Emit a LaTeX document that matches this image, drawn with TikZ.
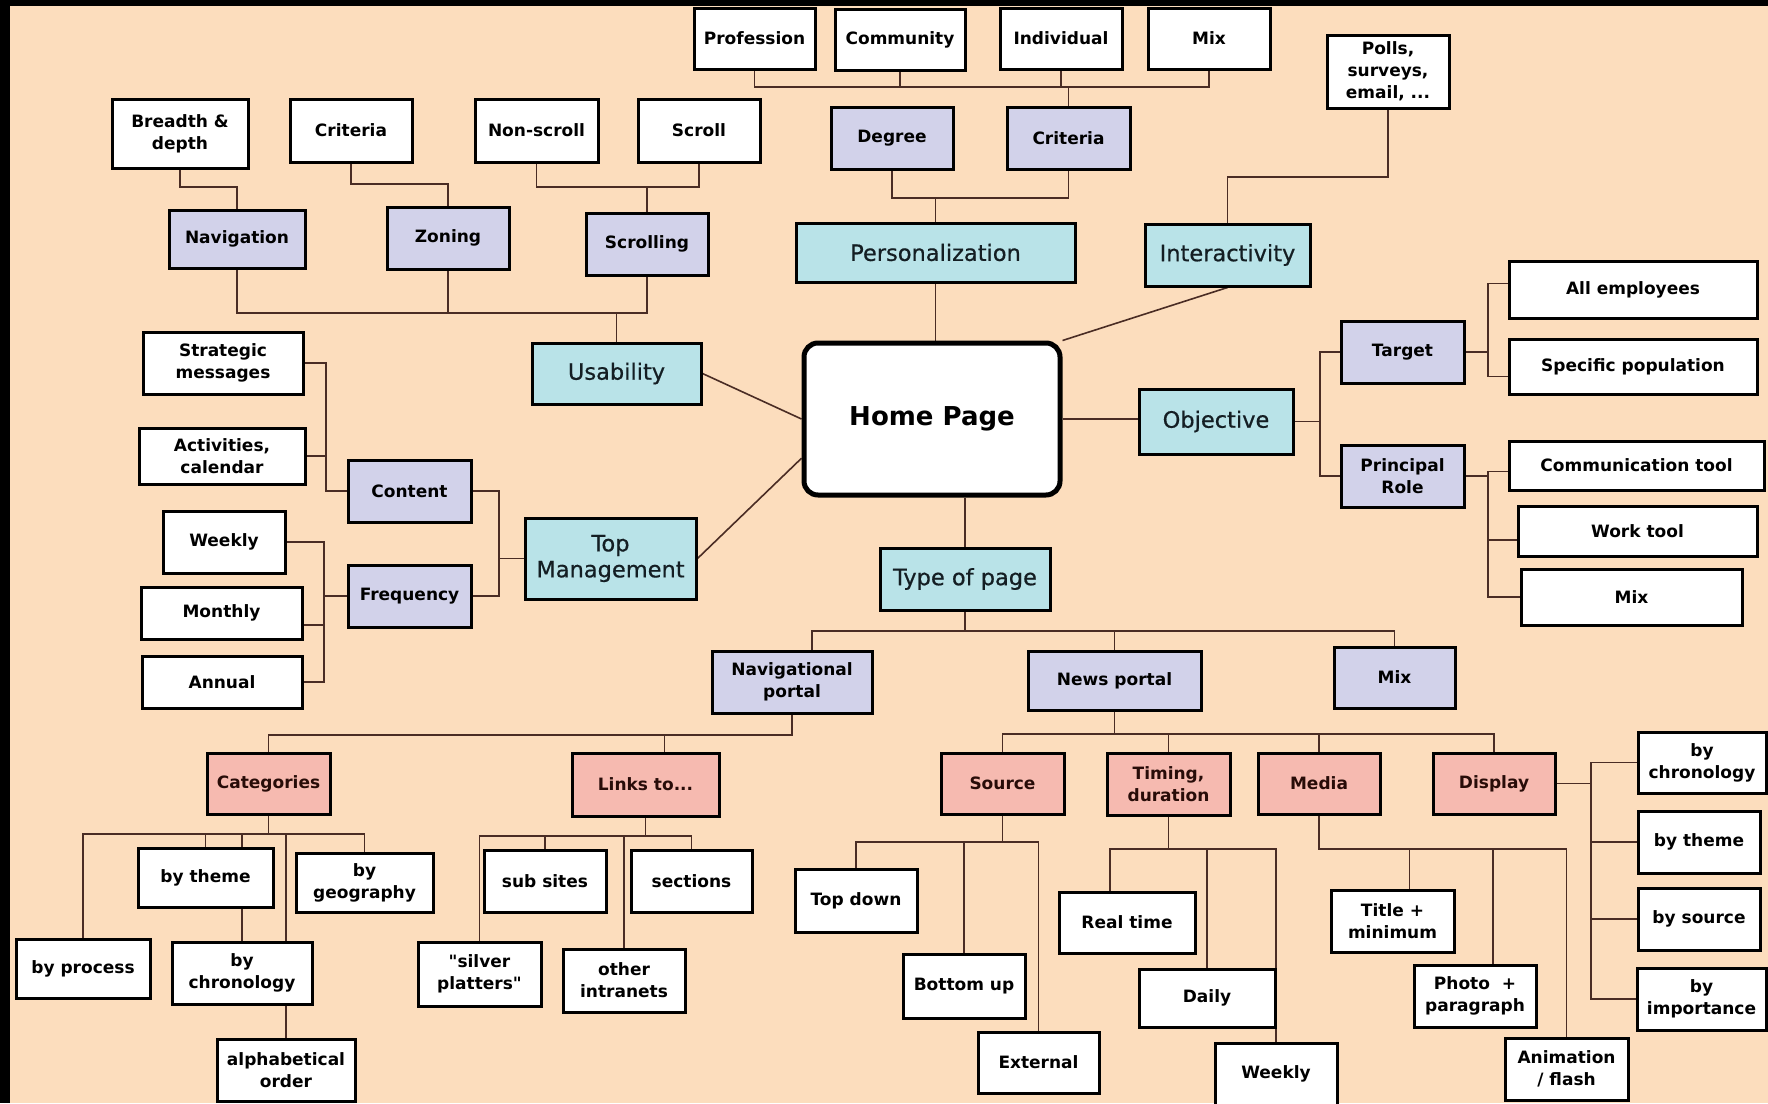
\documentclass[tikz,border=0pt]{standalone}
\usepackage{fontspec}
\setmainfont{DejaVu Sans}
\newfontfamily\medfont{DejaVu Sans}[FakeBold=0.6]
\newfontfamily\qfont{DejaVu Sans}[Ligatures=TeXOff]
\usetikzlibrary{calc}
\pgfdeclarelayer{back}
\pgfdeclarelayer{bg}
\pgfsetlayers{back,bg,main}
\definecolor{peach}{RGB}{252,221,189}
\definecolor{cyanbox}{RGB}{185,227,232}
\definecolor{lav}{RGB}{210,210,234}
\definecolor{salmon}{RGB}{246,186,176}
\definecolor{connc}{RGB}{74,44,36}
\tikzset{
  box/.style={draw=black, line width=3pt, inner sep=0pt, align=center,
    font=\bfseries\fontsize{17}{22}\selectfont, text=black},
  wbox/.style={box, fill=white},
  lbox/.style={box, fill=lav},
  sbox/.style={box, fill=salmon, text={rgb,255:red,40;green,12;blue,8}},
  cbox/.style={box, fill=cyanbox, font=\medfont\fontsize{22.5}{26}\selectfont, text={rgb,255:red,20;green,30;blue,35}},
  conn/.style={draw=connc, line width=1.6pt}
}
\newcommand\mybox[7]{\node[#1, minimum width=#5, minimum height=#6] (#2) at (#3,#4) {#7};}
\newcommand\sq{{\qfont\bfseries "}}
\begin{document}
\begin{tikzpicture}[x=1pt,y=-1pt]
\useasboundingbox (0,0) rectangle (1768,1103);
\begin{pgfonlayer}{back}
\fill[peach] (0,0) rectangle (1768,1103);
\fill[black] (0,0) rectangle (10,1103);
\fill[black] (0,0) rectangle (1768,6);
\end{pgfonlayer}

% ---- central
\node[draw=black, line width=5pt, rounded corners=14pt, fill=white, minimum width=256, minimum height=152,
  inner sep=0pt, font=\bfseries\fontsize{26}{30}\selectfont] (home) at (932,419) {Home Page};

% ---- cyan
\mybox{cbox}{pers}{935.5}{252.5}{279}{59}{Personalization}
\mybox{cbox}{interact}{1227.5}{255}{165}{62}{Interactivity}
\mybox{cbox}{usability}{616.5}{373.5}{169}{61}{Usability}
\mybox{cbox}{topmgmt}{610.5}{558.5}{171}{81}{Top\\Management}
\mybox{cbox}{objective}{1216}{421.5}{154}{65}{Objective}
\mybox{cbox}{typeofpage}{965}{579}{170}{62}{Type of page}

% ---- lavender
\mybox{lbox}{navigation}{237}{239}{136}{58}{Navigation}
\mybox{lbox}{zoning}{448}{238}{122}{62}{Zoning}
\mybox{lbox}{scrolling}{647}{244}{122}{62}{Scrolling}
\mybox{lbox}{degree}{892}{138}{122}{62}{Degree}
\mybox{lbox}{critp}{1068.5}{138}{123}{62}{Criteria}
\mybox{lbox}{target}{1402.5}{352}{123}{62}{Target}
\mybox{lbox}{principal}{1402.5}{476}{123}{62}{Principal\\Role}
\mybox{lbox}{content}{409.5}{491}{123}{62}{Content}
\mybox{lbox}{frequency}{409.5}{596}{123}{62}{Frequency}
\mybox{lbox}{navport}{792}{682}{160}{62}{Navigational\\portal}
\mybox{lbox}{newsport}{1114.5}{680.5}{173}{59}{News portal}
\mybox{lbox}{mixT}{1394.5}{677.5}{121}{61}{Mix}

% ---- salmon
\mybox{sbox}{categories}{268.5}{783.5}{123}{61}{Categories}
\mybox{sbox}{links}{645.5}{784.5}{147}{63}{Links to...}
\mybox{sbox}{source}{1002.5}{783.5}{123}{61}{Source}
\mybox{sbox}{timing}{1168.5}{784}{123}{62}{Timing,\\duration}
\mybox{sbox}{media}{1319}{783.5}{122}{61}{Media}
\mybox{sbox}{display}{1494}{783.5}{122}{61}{Display}

% ---- white
\mybox{wbox}{prof}{754.5}{38.5}{121}{61}{Profession}
\mybox{wbox}{comm}{900}{39.5}{130}{61}{Community}
\mybox{wbox}{indiv}{1061}{38.5}{122}{61}{Individual}
\mybox{wbox}{mixtop}{1209}{38.5}{122}{61}{Mix}
\mybox{wbox}{polls}{1388}{71.5}{122}{73}{Polls,\\surveys,\\email, ...}
\mybox{wbox}{breadth}{180}{133.5}{136}{69}{Breadth \&\\depth}
\mybox{wbox}{critz}{351}{130.5}{122}{63}{Criteria}
\mybox{wbox}{nonscroll}{536.5}{130.5}{123}{63}{Non-scroll}
\mybox{wbox}{scroll}{699}{130.5}{122}{63}{Scroll}
\mybox{wbox}{allemp}{1633}{289.5}{248}{57}{All employees}
\mybox{wbox}{specpop}{1633}{366.5}{248}{55}{Specific population}
\mybox{wbox}{strat}{223}{363}{160}{62}{Strategic\\messages}
\mybox{wbox}{activ}{222}{456}{166}{56}{Activities,\\calendar}
\mybox{wbox}{weekly1}{224}{542}{122}{62}{Weekly}
\mybox{wbox}{monthly}{221.5}{613}{161}{52}{Monthly}
\mybox{wbox}{annual}{222}{682}{160}{52}{Annual}
\mybox{wbox}{commtool}{1636.5}{465.5}{255}{49}{Communication tool}
\mybox{wbox}{worktool}{1637.5}{531}{239}{50}{Work tool}
\mybox{wbox}{mixR}{1631.5}{597}{221}{56}{Mix}
\mybox{wbox}{bytheme1}{205.5}{877.5}{135}{59}{by theme}
\mybox{wbox}{bygeo}{364.5}{882.5}{137}{59}{by\\geography}
\mybox{wbox}{byproc}{83}{968.5}{134}{59}{by process}
\mybox{wbox}{bychron1}{242}{973}{140}{62}{by\\chronology}
\mybox{wbox}{alpha}{286}{1070}{138}{62}{alphabetical\\order}
\mybox{wbox}{silver}{479.5}{974}{123}{64}{\sq silver\\platters\sq}
\mybox{wbox}{subsites}{545}{881}{122}{62}{sub sites}
\mybox{wbox}{otherint}{624}{980.5}{122}{63}{other\\intranets}
\mybox{wbox}{sections}{691.5}{881}{121}{62}{sections}
\mybox{wbox}{topdown}{856}{900.5}{122}{63}{Top down}
\mybox{wbox}{bottomup}{964}{986}{122}{64}{Bottom up}
\mybox{wbox}{external}{1038.5}{1062.5}{121}{61}{External}
\mybox{wbox}{realtime}{1127}{922.5}{136}{61}{Real time}
\mybox{wbox}{daily}{1207}{998}{136}{58}{Daily}
\mybox{wbox}{weekly2}{1276}{1074}{122}{62}{Weekly}
\mybox{wbox}{title}{1392.5}{921}{123}{62}{Title +\\minimum}
\mybox{wbox}{photo}{1475}{996}{122}{62}{Photo\ \ +\\paragraph}
\mybox{wbox}{anim}{1566.5}{1069}{123}{62}{Animation\\/ flash}
\mybox{wbox}{bychron2}{1702}{762.5}{128}{61}{by\\chronology}
\mybox{wbox}{bytheme2}{1699}{842}{122}{62}{by theme}
\mybox{wbox}{bysource}{1699}{919}{122}{62}{by source}
\mybox{wbox}{byimp}{1701.5}{999}{129}{62}{by\\importance}

% ---- bus levels
\coordinate (yTop) at (0,87);
\coordinate (yPer) at (0,198);
\coordinate (yNav) at (0,187);
\coordinate (yZon) at (0,184);
\coordinate (yUse) at (0,313);
\coordinate (yPol) at (0,177);
\coordinate (yType) at (0,631);
\coordinate (yNP) at (0,735);
\coordinate (yNews) at (0,734);
\coordinate (yCat) at (0,834);
\coordinate (yLnk) at (0,836);
\coordinate (ySrc) at (0,842);
\coordinate (yTim) at (0,849);
\coordinate (xCont) at (326,0);
\coordinate (xFreq) at (324,0);
\coordinate (xTM) at (499,0);
\coordinate (xObj) at (1320,0);
\coordinate (xTar) at (1488,0);
\coordinate (xDisp) at (1591,0);

\begin{pgfonlayer}{bg}
% personalization
\draw[conn] (prof.south) -- (prof.south |- yTop) -- (mixtop.south |- yTop) -- (mixtop.south);
\draw[conn] (comm.south) -- (comm.south |- yTop);
\draw[conn] (indiv.south) -- (indiv.south |- yTop);
\draw[conn] (critp.north) -- (critp.north |- yTop);
\draw[conn] (degree.south) -- (degree.south |- yPer) -- (critp.south |- yPer) -- (critp.south);
\draw[conn] (pers.north) -- (pers.north |- yPer);
\draw[conn] (pers.south) -- (pers.south |- home.north);
% usability
\draw[conn] (breadth.south) -- (breadth.south |- yNav) -- (navigation.north |- yNav) -- (navigation.north);
\draw[conn] (critz.south) -- (critz.south |- yZon) -- (zoning.north |- yZon) -- (zoning.north);
\draw[conn] (nonscroll.south) -- (nonscroll.south |- yNav) -- (scroll.south |- yNav) -- (scroll.south);
\draw[conn] (scrolling.north) -- (scrolling.north |- yNav);
\draw[conn] (navigation.south) -- (navigation.south |- yUse) -- (scrolling.south |- yUse) -- (scrolling.south);
\draw[conn] (zoning.south) -- (zoning.south |- yUse);
\draw[conn] (usability.north) -- (usability.north |- yUse);
\draw[conn] (usability.east) -- (home.west);
% interactivity
\draw[conn] (polls.south) -- (polls.south |- yPol) -- (interact.north |- yPol) -- (interact.north);
\draw[conn] (interact.south) -- (home.north east);
% top management
\draw[conn] (strat.east) -- (strat.east -| xCont) -- (content.west -| xCont) -- (content.west);
\draw[conn] (activ.east) -- (activ.east -| xCont);
\draw[conn] (weekly1.east) -- (weekly1.east -| xFreq) -- (annual.east -| xFreq) -- (annual.east);
\draw[conn] ($(monthly.east)+(0,12)$) -- ($(monthly.east -| xFreq)+(0,12)$);
\draw[conn] (frequency.west) -- (frequency.west -| xFreq);
\draw[conn] (content.east) -- (content.east -| xTM) -- (frequency.east -| xTM) -- (frequency.east);
\draw[conn] (topmgmt.west) -- (topmgmt.west -| xTM);
\draw[conn] (topmgmt.east) -- ($(home.south west)!0.25!(home.north west)$);
% objective
\draw[conn] (home.east) -- (home.east -| objective.west);
\draw[conn] (objective.east) -- (objective.east -| xObj);
\draw[conn] (target.west) -- (target.west -| xObj) -- (principal.west -| xObj) -- (principal.west);
\draw[conn] (target.east) -- (target.east -| xTar);
\draw[conn] ($(allemp.west)+(0,-6)$) -- ($(allemp.west -| xTar)+(0,-6)$) -- ($(specpop.west -| xTar)+(0,10)$) -- ($(specpop.west)+(0,10)$);
\draw[conn] (principal.east) -- (principal.east -| xTar);
\draw[conn] ($(commtool.west)+(0,6)$) -- ($(commtool.west -| xTar)+(0,6)$) -- (mixR.west -| xTar) -- (mixR.west);
\draw[conn] ($(worktool.west)+(0,9)$) -- ($(worktool.west -| xTar)+(0,9)$);
% type of page
\draw[conn] (typeofpage.north) -- (typeofpage.north |- home.south);
\draw[conn] (typeofpage.south) -- (typeofpage.south |- yType);
\draw[conn] ($(navport.north)+(20,0)$) -- ($(navport.north |- yType)+(20,0)$) -- (mixT.north |- yType) -- (mixT.north);
\draw[conn] (newsport.north) -- (newsport.north |- yType);
% navigational portal
\draw[conn] (navport.south) -- (navport.south |- yNP) -- (categories.north |- yNP) -- (categories.north);
\draw[conn] ($(links.north)+(19,0)$) -- ($(links.north |- yNP)+(19,0)$);
\draw[conn] (categories.south) -- (categories.south |- yCat);
\draw[conn] (byproc.north) -- (byproc.north |- yCat) -- (bygeo.north |- yCat) -- (bygeo.north);
\draw[conn] (bytheme1.north) -- (bytheme1.north |- yCat);
\draw[conn] (bychron1.north) -- (bychron1.north |- yCat);
\draw[conn] (alpha.north) -- (alpha.north |- yCat);
\draw[conn] (links.south) -- (links.south |- yLnk);
\draw[conn] (silver.north) -- (silver.north |- yLnk) -- (sections.north |- yLnk) -- (sections.north);
\draw[conn] (subsites.north) -- (subsites.north |- yLnk);
\draw[conn] (otherint.north) -- (otherint.north |- yLnk);
% news portal
\draw[conn] (newsport.south) -- (newsport.south |- yNews);
\draw[conn] (source.north) -- (source.north |- yNews) -- (display.north |- yNews) -- (display.north);
\draw[conn] (timing.north) -- (timing.north |- yNews);
\draw[conn] (media.north) -- (media.north |- yNews);
\draw[conn] (source.south) -- (source.south |- ySrc);
\draw[conn] (topdown.north) -- (topdown.north |- ySrc) -- (external.north |- ySrc) -- (external.north);
\draw[conn] (bottomup.north) -- (bottomup.north |- ySrc);
\draw[conn] (timing.south) -- (timing.south |- yTim);
\draw[conn] ($(realtime.north)+(-17,0)$) -- ($(realtime.north |- yTim)+(-17,0)$) -- (weekly2.north |- yTim) -- (weekly2.north);
\draw[conn] (daily.north) -- (daily.north |- yTim);
\draw[conn] (media.south) -- (media.south |- yTim) -- (anim.north |- yTim) -- (anim.north);
\draw[conn] ($(title.north)+(17,0)$) -- ($(title.north |- yTim)+(17,0)$);
\draw[conn] ($(photo.north)+(18,0)$) -- ($(photo.north |- yTim)+(18,0)$);
\draw[conn] (display.east) -- (display.east -| xDisp);
\draw[conn] (bychron2.west) -- (bychron2.west -| xDisp) -- (byimp.west -| xDisp) -- (byimp.west);
\draw[conn] (bytheme2.west) -- (bytheme2.west -| xDisp);
\draw[conn] (bysource.west) -- (bysource.west -| xDisp);
\end{pgfonlayer}
\end{tikzpicture}
\end{document}
